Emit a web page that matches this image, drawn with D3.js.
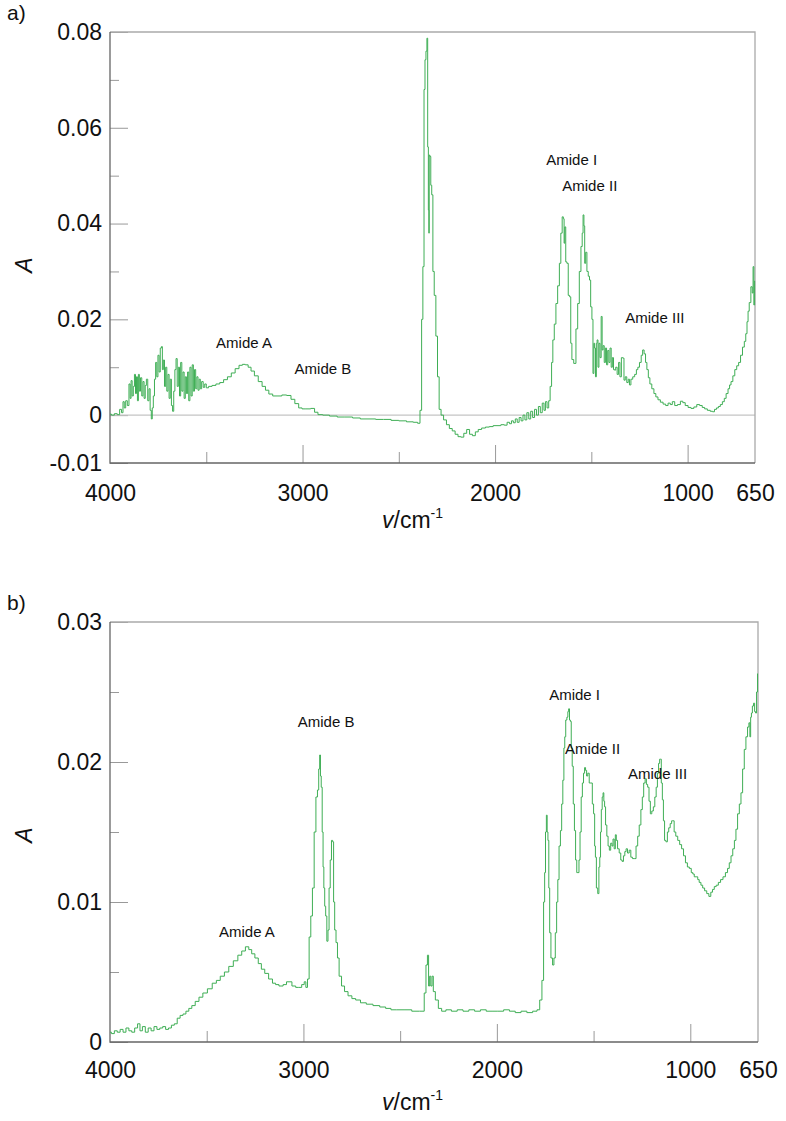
<!DOCTYPE html>
<html lang="en">
<head>
  <meta charset='utf-8'>
  <title>FTIR spectra</title>
  <style>
    html, body { margin: 0; padding: 0; background: #ffffff; }
    svg { display: block; }
    text { font-family: "Liberation Sans", Arial, sans-serif; fill: #111; }
  </style>
</head>
<body>

  <div id="chart"></div>

<script src="https://d3js.org/d3.v7.min.js"></script>
<script>

  ////////////////////////////////////////////////// DATA

  // panel a) - wavenumber (cm-1) and absorbance
  var aWavenumber = [
    4000,3985,3970,3955,3945,3935,3930,3922,3915,3905,3898,3893,3888,3882,3876,3870,3865,3860,3855,3850,
    3845,3838,3832,3826,3820,3814,3808,3800,3795,3788,3783,3778,3772,3766,3760,3754,3748,3742,3736,3730,
    3726,3720,3714,3708,3702,3696,3690,3684,3678,3672,3666,3660,3654,3648,3642,3636,3630,3624,3618,3612,
    3606,3600,3594,3588,3582,3576,3570,3564,3558,3552,3546,3540,3534,3528,3520,3512,3504,3496,3480,3460,
    3440,3420,3400,3380,3360,3340,3320,3305,3290,3275,3260,3240,3220,3200,3185,3165,3145,3120,3095,3070,
    3050,3030,3010,2995,2970,2945,2930,2910,2880,2840,2800,2760,2720,2680,2640,2600,2560,2520,2480,2440,
    2410,2395,2385,2378,2372,2366,2362,2356,2352,2348,2345,2343,2341,2336,2332,2326,2320,2312,2303,2295,
    2286,2275,2260,2245,2230,2215,2200,2185,2170,2155,2140,2125,2110,2095,2080,2060,2040,2020,2000,1980,
    1960,1945,1930,1920,1910,1900,1890,1880,1870,1860,1850,1840,1830,1820,1810,1800,1790,1780,1770,1760,
    1750,1742,1735,1725,1718,1710,1703,1697,1688,1680,1670,1662,1655,1648,1643,1640,1636,1630,1624,1616,
    1610,1604,1598,1585,1575,1567,1558,1550,1545,1541,1536,1533,1526,1520,1512,1507,1500,1494,1489,1485,
    1481,1476,1472,1468,1463,1458,1452,1446,1442,1436,1430,1424,1418,1412,1406,1400,1394,1388,1382,1377,
    1370,1362,1355,1348,1340,1333,1328,1320,1312,1305,1299,1290,1280,1270,1262,1255,1245,1237,1230,1222,
    1215,1208,1200,1192,1180,1170,1160,1148,1135,1120,1108,1095,1085,1074,1060,1045,1030,1020,1005,990,
    975,960,945,930,918,905,890,875,866,855,845,835,825,814,805,795,785,779,770,760,
    750,740,730,720,710,701,695,688,684,676,667,662,658,654,650
  ];
  var aAbsorbance = [
    0.0002,0.0000,0.0003,0.0001,0.0012,0.0005,0.0028,0.0015,0.0030,0.0020,0.0065,0.0035,0.0072,0.0040,0.0060,0.0085,0.0045,0.0080,0.0030,0.0085,
    0.0050,0.0078,0.0040,0.0070,0.0035,0.0062,0.0075,0.0030,0.0055,0.0010,-0.0008,0.0015,0.0040,0.0075,0.0110,0.0080,0.0125,0.0090,0.0140,0.0143,
    0.0095,0.0115,0.0060,0.0100,0.0050,0.0085,0.0035,0.0075,0.0020,0.0008,0.0050,0.0095,0.0118,0.0060,0.0100,0.0040,0.0110,0.0050,0.0090,0.0035,
    0.0080,0.0045,0.0090,0.0030,0.0100,0.0040,0.0105,0.0050,0.0095,0.0055,0.0080,0.0052,0.0075,0.0055,0.0070,0.0058,0.0065,0.0057,0.0060,0.0062,
    0.0065,0.0068,0.0074,0.0080,0.0088,0.0097,0.0104,0.0106,0.0105,0.0100,0.0092,0.0082,0.0070,0.0060,0.0052,0.0044,0.0040,0.0040,0.0042,0.0041,
    0.0033,0.0024,0.0015,0.0013,0.0013,0.0014,0.0006,0.0001,0.0000,-0.0002,-0.0004,-0.0004,-0.0006,-0.0008,-0.0008,-0.0009,-0.0009,-0.0011,-0.0012,-0.0014,
    -0.0015,-0.0017,0.0010,0.0200,0.0310,0.0680,0.0742,0.0760,0.0787,0.0560,0.0428,0.0380,0.0543,0.0540,0.0480,0.0460,0.0300,0.0250,0.0165,0.0080,
    0.0012,0.0000,-0.0010,-0.0020,-0.0028,-0.0033,-0.0040,-0.0045,-0.0046,-0.0038,-0.0030,-0.0040,-0.0043,-0.0035,-0.0030,-0.0027,-0.0025,-0.0024,-0.0022,-0.0022,
    -0.0020,-0.0021,-0.0015,-0.0018,-0.0012,-0.0016,-0.0008,-0.0015,-0.0005,-0.0012,0.0000,-0.0010,0.0005,-0.0008,0.0008,-0.0005,0.0012,0.0000,0.0018,0.0005,
    0.0025,0.0010,0.0028,0.0015,0.0030,0.0060,0.0110,0.0157,0.0190,0.0233,0.0270,0.0317,0.0380,0.0414,0.0410,0.0359,0.0393,0.0320,0.0317,0.0250,
    0.0247,0.0150,0.0116,0.0108,0.0180,0.0233,0.0300,0.0352,0.0380,0.0418,0.0395,0.0317,0.0340,0.0300,0.0290,0.0282,0.0226,0.0200,0.0087,0.0150,
    0.0140,0.0080,0.0150,0.0157,0.0100,0.0150,0.0120,0.0206,0.0136,0.0145,0.0110,0.0140,0.0105,0.0135,0.0110,0.0140,0.0100,0.0120,0.0095,0.0094,
    0.0100,0.0085,0.0110,0.0080,0.0120,0.0119,0.0073,0.0080,0.0068,0.0075,0.0063,0.0075,0.0080,0.0085,0.0095,0.0100,0.0110,0.0125,0.0136,0.0128,
    0.0110,0.0095,0.0078,0.0065,0.0055,0.0045,0.0038,0.0032,0.0027,0.0023,0.0020,0.0025,0.0022,0.0028,0.0020,0.0022,0.0029,0.0026,0.0020,0.0016,
    0.0014,0.0017,0.0022,0.0020,0.0016,0.0013,0.0010,0.0008,0.0007,0.0012,0.0015,0.0018,0.0022,0.0028,0.0035,0.0045,0.0055,0.0063,0.0070,0.0082,
    0.0095,0.0103,0.0110,0.0125,0.0142,0.0154,0.0170,0.0195,0.0217,0.0235,0.0268,0.0255,0.0310,0.0230,0.0280
  ];

  // panel b)
  var bWavenumber = [
    4000,3985,3970,3955,3940,3925,3910,3895,3880,3865,3850,3840,3825,3810,3795,3780,3765,3750,3735,3720,
    3705,3690,3675,3660,3645,3630,3615,3600,3585,3569,3550,3530,3510,3483,3460,3440,3420,3397,3375,3350,
    3328,3310,3290,3275,3260,3242,3225,3210,3190,3170,3150,3138,3115,3095,3080,3069,3050,3030,3018,3000,
    2992,2983,2975,2966,2958,2949,2940,2931,2924,2918,2914,2910,2906,2900,2897,2892,2888,2882,2876,2870,
    2865,2858,2852,2846,2842,2835,2828,2820,2811,2795,2780,2759,2740,2720,2690,2660,2621,2590,2560,2535,
    2500,2460,2420,2380,2371,2362,2356,2350,2345,2338,2332,2325,2311,2294,2277,2250,2220,2190,2160,2130,
    2100,2070,2040,2010,1980,1950,1920,1890,1860,1830,1800,1785,1772,1762,1755,1751,1746,1742,1738,1734,
    1729,1725,1716,1708,1702,1694,1688,1682,1675,1668,1662,1656,1651,1647,1641,1635,1631,1627,1622,1618,
    1613,1608,1602,1596,1590,1584,1578,1573,1567,1561,1555,1549,1544,1539,1533,1527,1518,1510,1503,1497,
    1492,1489,1482,1475,1470,1466,1462,1458,1453,1449,1445,1441,1435,1428,1422,1415,1408,1402,1397,1390,
    1385,1380,1372,1363,1356,1349,1342,1335,1329,1320,1312,1303,1295,1285,1276,1268,1260,1251,1245,1237,
    1230,1224,1217,1210,1203,1195,1187,1180,1173,1167,1161,1156,1153,1147,1142,1136,1130,1122,1115,1108,
    1100,1093,1087,1080,1070,1060,1050,1040,1030,1020,1010,1000,990,984,975,965,958,950,940,932,
    920,910,898,890,880,872,860,850,837,825,812,803,794,785,776,768,760,751,742,734,
    725,717,708,700,694,690,686,682,676,670,665,660,655,650
  ];
  var bAbsorbance = [
    0.0007,0.0006,0.0008,0.0007,0.0009,0.0007,0.0010,0.0008,0.0007,0.0010,0.0013,0.0008,0.0011,0.0007,0.0010,0.0008,0.0011,0.0009,0.0010,0.0011,
    0.0009,0.0010,0.0012,0.0013,0.0017,0.0019,0.0020,0.0022,0.0024,0.0026,0.0029,0.0032,0.0035,0.0038,0.0042,0.0044,0.0047,0.0050,0.0054,0.0058,
    0.0062,0.0065,0.0068,0.0066,0.0063,0.0060,0.0056,0.0052,0.0049,0.0045,0.0042,0.0041,0.0040,0.0041,0.0043,0.0043,0.0040,0.0039,0.0039,0.0041,
    0.0043,0.0039,0.0045,0.0075,0.0090,0.0110,0.0150,0.0175,0.0180,0.0195,0.0205,0.0190,0.0182,0.0150,0.0125,0.0110,0.0097,0.0090,0.0072,0.0080,
    0.0110,0.0130,0.0144,0.0143,0.0100,0.0080,0.0071,0.0060,0.0047,0.0040,0.0036,0.0033,0.0031,0.0030,0.0028,0.0027,0.0026,0.0025,0.0024,0.0023,
    0.0023,0.0023,0.0022,0.0022,0.0035,0.0055,0.0062,0.0040,0.0047,0.0040,0.0047,0.0036,0.0030,0.0024,0.0022,0.0023,0.0022,0.0023,0.0022,0.0023,
    0.0022,0.0023,0.0022,0.0022,0.0022,0.0023,0.0022,0.0021,0.0022,0.0021,0.0022,0.0023,0.0030,0.0044,0.0100,0.0121,0.0150,0.0162,0.0150,0.0144,
    0.0110,0.0078,0.0060,0.0055,0.0060,0.0078,0.0100,0.0116,0.0140,0.0151,0.0170,0.0187,0.0210,0.0218,0.0230,0.0232,0.0236,0.0238,0.0230,0.0229,
    0.0210,0.0197,0.0170,0.0151,0.0130,0.0121,0.0121,0.0130,0.0150,0.0175,0.0185,0.0192,0.0196,0.0194,0.0190,0.0192,0.0185,0.0185,0.0170,0.0163,
    0.0140,0.0132,0.0110,0.0106,0.0125,0.0132,0.0150,0.0166,0.0175,0.0178,0.0172,0.0168,0.0155,0.0147,0.0140,0.0137,0.0142,0.0140,0.0145,0.0138,
    0.0148,0.0144,0.0138,0.0135,0.0130,0.0129,0.0133,0.0136,0.0138,0.0135,0.0137,0.0132,0.0131,0.0131,0.0140,0.0147,0.0155,0.0166,0.0175,0.0185,
    0.0188,0.0184,0.0182,0.0172,0.0163,0.0165,0.0168,0.0175,0.0182,0.0192,0.0199,0.0202,0.0202,0.0185,0.0173,0.0158,0.0144,0.0143,0.0150,0.0153,
    0.0156,0.0158,0.0158,0.0150,0.0147,0.0144,0.0141,0.0138,0.0133,0.0128,0.0125,0.0124,0.0121,0.0120,0.0118,0.0118,0.0116,0.0114,0.0112,0.0110,
    0.0108,0.0106,0.0104,0.0107,0.0109,0.0111,0.0112,0.0114,0.0116,0.0118,0.0121,0.0124,0.0128,0.0133,0.0138,0.0144,0.0152,0.0163,0.0170,0.0178,
    0.0195,0.0209,0.0218,0.0225,0.0228,0.0218,0.0232,0.0235,0.0240,0.0242,0.0236,0.0235,0.0250,0.0263
  ];

  // band labels (text, wavenumber, absorbance where the text sits)
  var bandNames = ["Amide A", "Amide B", "Amide I", "Amide II", "Amide III"];
  var aBandWn   = [3304, 2894, 1602, 1508, 1170];
  var aBandAbs  = [0.0140, 0.0086, 0.0522, 0.0467, 0.0193];
  var bBandWn   = [3292, 2883, 1598, 1505, 1169];
  var bBandAbs  = [0.0075, 0.0225, 0.0244, 0.0206, 0.0188];

  // axis ticks
  var xLabelTicks = [4000, 3000, 2000, 1000, 650];
  var xMajorTicks = [3000, 2000, 1000];
  var xMinorTicks = [3500, 2500, 1500];
  var aYMajor = [0.08, 0.06, 0.04, 0.02, 0, -0.01];
  var aYMinor = [0.07, 0.05, 0.03, 0.01];
  var bYMajor = [0.03, 0.02, 0.01, 0];
  var bYMinor = [0.025, 0.015, 0.005];

  ////////////////////////////////////////////////// SETUP

  var width = 786, height = 1121;
  var lineColor = "#3fae55";

  var svg = d3.select("#chart").append("svg")
              .attr("width", width)
              .attr("height", height);

  drawPanel({
    tag: "a)", wn: aWavenumber, abs: aAbsorbance,
    left: 110, right: 755, top: 32, bottom: 463,
    yDomain: [-0.01, 0.08], yMajor: aYMajor, yMinor: aYMinor,
    zeroLine: true, bandWn: aBandWn, bandAbs: aBandAbs,
    xLabelPad: 22, titleY: 528, aTitleY: 265
  });

  drawPanel({
    tag: "b)", wn: bWavenumber, abs: bAbsorbance,
    left: 110, right: 758, top: 622, bottom: 1042,
    yDomain: [0, 0.03], yMajor: bYMajor, yMinor: bYMinor,
    zeroLine: false, bandWn: bBandWn, bandAbs: bBandAbs,
    xLabelPad: 20, titleY: 1110, aTitleY: 835
  });

  ////////////////////////////////////////////////// FUNCTIONS

  // plain hyphen for negatives, like the original figure
  function fmtY(d){
    if (d === 0) return "0";
    return d3.format(".2f")(d).replace("\u2212", "-");
  }

  function drawPanel(p){
    var g = svg.append("g");

    var x = d3.scaleLinear().domain([4000, 650]).range([p.left, p.right]);
    var y = d3.scaleLinear().domain(p.yDomain).range([p.bottom, p.top]);

    // y ticks (inside) + labels
    g.append("g")
     .attr("transform", "translate(" + p.left + ",0)")
     .call(d3.axisLeft(y).tickValues(p.yMinor).tickSize(-9).tickFormat(""))
     .call(function(a){ a.select(".domain").remove(); a.selectAll("line").attr("stroke", "#999"); });

    g.append("g")
     .attr("transform", "translate(" + p.left + ",0)")
     .call(d3.axisLeft(y).tickValues(p.yMajor).tickSize(-18).tickPadding(8).tickFormat(fmtY))
     .call(function(a){
       a.select(".domain").remove();
       a.selectAll("line").attr("stroke", "#999");
       a.selectAll("text").attr("font-size", 23).attr("fill", "#111")
        .attr("font-family", "'Liberation Sans', Arial, sans-serif");
     });

    // x ticks (inside) and labels
    g.append("g")
     .attr("transform", "translate(0," + p.bottom + ")")
     .call(d3.axisBottom(x).tickValues(xMinorTicks).tickSize(-11).tickFormat(""))
     .call(function(a){ a.select(".domain").remove(); a.selectAll("line").attr("stroke", "#999"); });

    g.append("g")
     .attr("transform", "translate(0," + p.bottom + ")")
     .call(d3.axisBottom(x).tickValues(xMajorTicks).tickSize(-18).tickFormat(""))
     .call(function(a){ a.select(".domain").remove(); a.selectAll("line").attr("stroke", "#999"); });

    g.append("g")
     .attr("transform", "translate(0," + p.bottom + ")")
     .call(d3.axisBottom(x).tickValues(xLabelTicks).tickSize(0).tickPadding(p.xLabelPad).tickFormat(d3.format("d")))
     .call(function(a){
       a.select(".domain").remove();
       a.selectAll("text").attr("font-size", 23).attr("fill", "#111")
        .attr("font-family", "'Liberation Sans', Arial, sans-serif");
     });

    // zero baseline
    if (p.zeroLine) {
      g.append("line")
       .attr("x1", p.left).attr("x2", p.right)
       .attr("y1", y(0)).attr("y2", y(0))
       .attr("stroke", "#c4c4c4").attr("stroke-width", 1.2);
    }

    // frame
    g.append("path")
     .attr("d", "M" + p.left + "," + p.top + "H" + p.right + "V" + p.bottom)
     .attr("fill", "none").attr("stroke", "#aaa").attr("stroke-width", 1.3);
    g.append("path")
     .attr("d", "M" + p.left + "," + p.top + "V" + p.bottom + "H" + p.right)
     .attr("fill", "none").attr("stroke", "#666").attr("stroke-width", 1.3);

    // spectrum
    var pts = p.wn.map(function(w, i){ return [w, p.abs[i]]; });
    var line = d3.line()
                 .x(function(d){ return x(d[0]); })
                 .y(function(d){ return y(d[1]); })
                 .curve(d3.curveStep);
    g.append("path")
     .datum(pts)
     .attr("d", line)
     .attr("fill", "none")
     .attr("stroke", lineColor)
     .attr("stroke-width", 1);

    // band labels
    g.selectAll(".band")
     .data(bandNames)
     .enter().append("text")
     .attr("class", "band")
     .attr("x", function(d, i){ return x(p.bandWn[i]); })
     .attr("y", function(d, i){ return y(p.bandAbs[i]); })
     .attr("text-anchor", "middle")
     .attr("font-size", 15)
     .text(function(d){ return d; });

    // axis titles
    var xt = g.append("text")
              .attr("x", 382).attr("y", p.titleY)
              .attr("font-size", 23);
    xt.append("tspan").attr("font-style", "italic").text("v");
    xt.append("tspan").text("/cm");
    xt.append("tspan").attr("font-size", 14).attr("dy", -10).text("-1");

    g.append("text")
     .attr("transform", "translate(32," + p.aTitleY + ") rotate(-90)")
     .attr("text-anchor", "middle")
     .attr("font-size", 23)
     .attr("font-style", "italic")
     .text("A");

    // panel tag
    g.append("text")
     .attr("x", 7).attr("y", p.top - 12)
     .attr("font-size", 21)
     .text(p.tag);
  }

</script>
</body>
</html>
